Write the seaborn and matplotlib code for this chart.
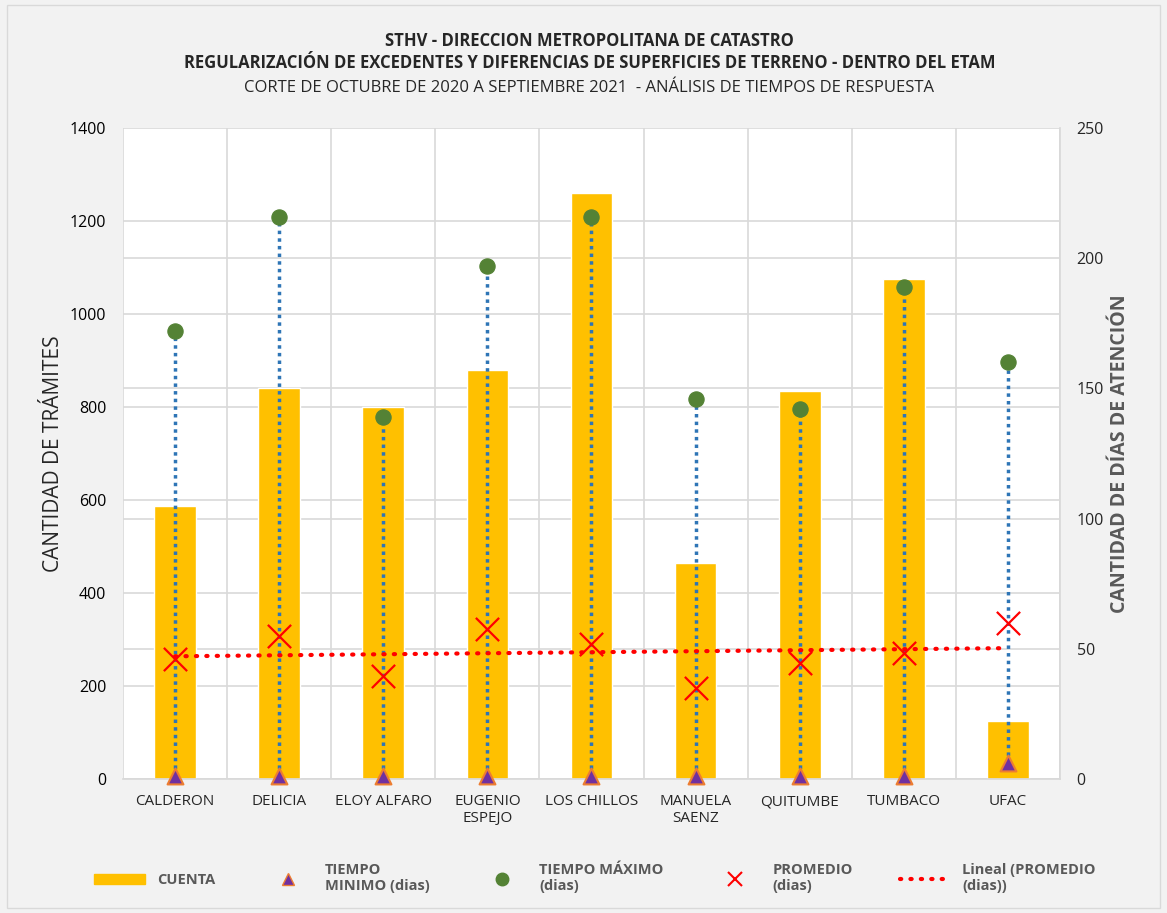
import matplotlib
matplotlib.use("Agg")
import matplotlib.pyplot as plt
from matplotlib.lines import Line2D
from matplotlib.patches import Patch, Rectangle
import numpy as np
import pandas as pd
import seaborn as sns

# datos
zonas = ["CALDERON", "DELICIA", "ELOY ALFARO", "EUGENIO\nESPEJO", "LOS CHILLOS",
         "MANUELA\nSAENZ", "QUITUMBE", "TUMBACO", "UFAC"]
cuenta = [587, 841, 800, 880, 1260, 465, 834, 1075, 125]
tiempo_min = [1, 1, 1, 1, 1, 1, 1, 1, 6]
tiempo_max = [172, 216, 139, 197, 216, 146, 142, 189, 160]
promedio = [46, 55, 39.6, 57.6, 52, 35, 44.5, 48.4, 60]
left_ticks = [0, 200, 400, 600, 800, 1000, 1200, 1400]
right_ticks = [0, 50, 100, 150, 200, 250]

sns.set_theme(style="white")
plt.rcParams['font.family'] = ['Open Sans', 'DejaVu Sans']

df = pd.DataFrame({"zona": zonas, "cuenta": cuenta, "tmin": tiempo_min,
                   "tmax": tiempo_max, "prom": promedio})
x = np.arange(len(zonas))

fig = plt.figure(figsize=(11.67, 9.13), dpi=100, facecolor="#F2F2F2")
fig.patches.append(Rectangle((0.006, 0.006), 0.988, 0.988, transform=fig.transFigure,
                             fill=False, edgecolor="#D9D9D9", lw=1))
ax = fig.add_axes([0.1054, 0.1468, 0.8029, 0.713])
ax.set_facecolor("white")

sns.barplot(data=df, x="zona", y="cuenta", color="#FFC000", saturation=1,
            width=0.4, ax=ax, zorder=2)
ax.set_xlim(-0.5, len(zonas) - 0.5)
ax.set_ylim(0, 1400)
ax.set_yticks(left_ticks)
# lineas de grilla del eje secundario, dibujadas detras de las barras
ax.set_yticks([v * 1400 / 250 for v in right_ticks], minor=True)
ax.set_xticks(np.arange(-0.5, len(zonas), 1), minor=True)
ax.grid(True, which="both", color="#D9D9D9", lw=1.2, zorder=0)
ax.grid(False, which="major", axis="x")
ax.set_axisbelow(True)
ax.tick_params(which="both", length=0)
ax.tick_params(axis="y", labelsize=11.5, colors="#000000", pad=12)
ax.tick_params(axis="x", labelsize=11, pad=11)
ax.set_xlabel("")
ax.set_ylabel("CANTIDAD DE TRÁMITES", fontsize=15, labelpad=4)
for s in ["left", "top"]:
    ax.spines[s].set_visible(False)
for s in ["bottom", "right"]:
    ax.spines[s].set_color("#D9D9D9")

ax2 = ax.twinx()
ax2.set_ylim(0, 250)
ax2.set_yticks(right_ticks)
ax2.tick_params(length=0, labelsize=11.5, pad=12)
for s in ax2.spines.values():
    s.set_visible(False)

ax2.vlines(x, df["tmin"], df["tmax"], colors="#2E75B6", lw=2.5,
           linestyles=(0, (1, 1.2)), zorder=3)
sns.scatterplot(x=x, y=df["tmax"], ax=ax2, color="#548235", s=120,
                edgecolor="#548235", zorder=4, legend=False)
sns.scatterplot(x=x, y=df["tmin"], ax=ax2, marker="^", color="#7030A0", s=130,
                edgecolor="#ED7D31", linewidth=1.5, zorder=4, legend=False, clip_on=False)
# tendencia lineal del promedio
coef = np.polyfit(x, df["prom"], 1)
ax2.plot(x, np.polyval(coef, x), color="#FF0000", lw=3, linestyle=(0, (0.3, 2.2)),
         dash_capstyle="round", zorder=3)
sns.scatterplot(x=x, y=df["prom"], ax=ax2, marker="x", color="#FF0000", s=280,
                linewidth=1.6, zorder=5, legend=False)
ax2.set_ylabel("CANTIDAD DE DÍAS DE ATENCIÓN", fontsize=14, fontweight="bold",
               color="#595959", labelpad=4)

fig.text(0.505, 0.950, "STHV - DIRECCION METROPOLITANA DE CATASTRO", ha="center",
         fontsize=12, fontweight="bold")
fig.text(0.505, 0.925, "REGULARIZACIÓN DE EXCEDENTES Y DIFERENCIAS DE SUPERFICIES DE TERRENO - DENTRO DEL ETAM",
         ha="center", fontsize=12, fontweight="bold")
fig.text(0.505, 0.899, "CORTE DE OCTUBRE DE 2020 A SEPTIEMBRE 2021  - ANÁLISIS DE TIEMPOS DE RESPUESTA",
         ha="center", fontsize=12)

handles = [
    Patch(color="#FFC000"),
    Line2D([], [], marker="^", color="#7030A0", markeredgecolor="#ED7D31", ls="", markersize=9),
    Line2D([], [], marker="o", color="#548235", ls="", markersize=9),
    Line2D([], [], marker="x", color="#FF0000", ls="", markersize=10, mew=1.5),
    Line2D([], [], color="#FF0000", lw=3, ls=(0, (0.3, 2.2)), dash_capstyle="round"),
]
labels = ["CUENTA", "TIEMPO\nMINIMO (dias)", "TIEMPO MÁXIMO\n(dias)", "PROMEDIO\n(dias)",
          "Lineal (PROMEDIO\n(dias))"]
leg = fig.legend(handles, labels, loc="center", bbox_to_anchor=(0.51, 0.038), ncol=5,
                 frameon=False, handlelength=3.5, columnspacing=3.2, handletextpad=0.8,
                 prop={"weight": "bold", "size": 10.5})
for t in leg.get_texts():
    t.set_color("#595959")

fig.savefig("out.png", dpi=100, facecolor=fig.get_facecolor())
